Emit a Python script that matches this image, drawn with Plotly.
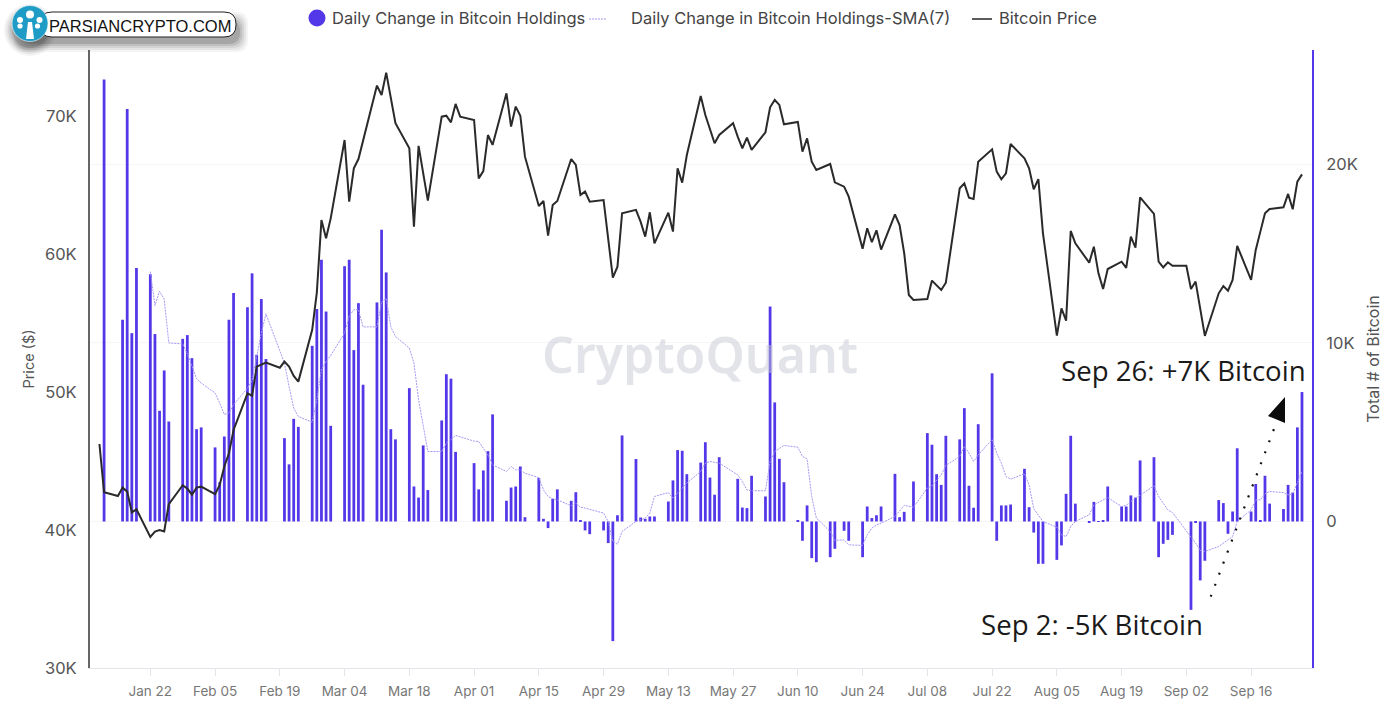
import plotly.graph_objects as go

bar_dates = """01-12 01-16 01-17 01-18 01-19 01-22 01-23 01-24 01-25 01-26 01-29 01-30 01-31 02-01 02-02
02-05 02-06 02-07 02-08 02-09 02-12 02-13 02-14 02-15 02-16 02-20 02-21 02-22 02-23
02-26 02-27 02-28 02-29 03-01 03-04 03-05 03-06 03-07 03-08 03-11 03-12 03-13 03-14 03-15
03-18 03-19 03-20 03-21 03-22 03-25 03-26 03-27 03-28 04-01 04-02 04-03 04-04 04-05
04-08 04-09 04-10 04-11 04-12 04-15 04-16 04-17 04-18 04-19 04-22 04-23 04-24 04-25 04-26
04-29 04-30 05-01 05-02 05-03 05-06 05-07 05-08 05-09 05-10 05-13 05-14 05-15 05-16 05-17
05-20 05-21 05-22 05-23 05-24 05-28 05-29 05-30 05-31 06-03 06-04 06-05 06-06 06-07
06-10 06-11 06-12 06-13 06-14 06-17 06-18 06-20 06-21 06-24 06-25 06-26 06-27 06-28
07-01 07-02 07-03 07-05 07-08 07-09 07-10 07-11 07-12 07-15 07-16 07-17 07-18 07-19
07-22 07-23 07-24 07-25 07-26 07-29 07-30 07-31 08-01 08-02 08-05 08-06 08-07 08-08 08-09
08-12 08-13 08-14 08-15 08-16 08-19 08-20 08-21 08-22 08-23 08-26 08-27 08-28 08-29 08-30
09-03 09-04 09-05 09-06 09-09 09-10 09-11 09-12 09-13 09-16 09-17 09-18 09-19 09-20
09-23 09-24 09-25 09-26 09-27""".split()
bar_values = [24.76, 11.3, 23.1, 10.55, 14.2, 13.85, 10.5, 6.2, 8.46, 5.6, 10.23, 10.44, 9.15, 5.17, 5.27,
    4.15, 2.2, 4.76, 11.3, 12.8, 12.0, 13.9, 9.34, 12.46, 9.1, 4.67, 3.2, 5.75, 5.3,
    9.84, 11.9, 14.66, 11.76, 5.36, 14.3, 14.66, 9.6, 12.23, 7.66, 12.27, 16.34, 13.95, 5.17, 4.6,
    7.47, 1.96, 1.34, 4.26, 1.76, 5.66, 8.25, 8.0, 3.9, 3.27, 1.8, 2.86, 3.94, 6.0,
    1.16, 1.9, 1.96, 3.08, 0.24, 2.43, 0.15, -0.37, 1.27, 1.8, 1.16, 1.64, 0.06, -0.5, -0.71,
    -0.5, -1.21, -6.7, 0.35, 4.82, 3.5, 0.22, 0.15, 0.28, 0.28, 1.12, 2.3, 4.0, 3.96, 2.65,
    3.3, 4.44, 2.46, 1.5, 3.6, 2.39, 0.78, 0.75, 2.56, 1.4, 12.04, 6.67, 3.51, 2.2,
    0.06, -1.08, 0.9, -2.05, -2.28, -2.0, -1.53, -0.52, -1.08, -2.0, 0.84, 0.19, 0.35, 0.84,
    2.67, 0.24, 0.54, 2.24, 4.95, 4.3, 2.65, 2.05, 4.8, 4.6, 6.35, 2.0, 0.77, 5.45,
    8.3, -1.08, 0.9, 0.9, 0.95, 2.95, 0.8, -0.62, -2.37, -2.37, -2.15, -1.34, 1.55, 4.8, 1.0,
    -0.06, 1.1, -0.02, 0.04, 1.96, 0.84, 0.84, 1.46, 1.34, 3.42, 3.6, -2.0, -1.25, -1.03, -0.75,
    -4.95, -0.06, -3.3, -2.2, 1.2, 1.03, -0.69, 0.56, 4.1, 0.56, 2.1, 0.07, 2.56, 1.0,
    0.7, 2.05, 1.62, 5.27, 7.25]

sma_dates = bar_dates[5:]
sma_values = [14.0, 12.1, 12.9, 12.45, 10.0, 9.95, 9.4, 8.7, 8.0, 7.75,
    7.2, 6.63, 6.0, 6.07, 6.54, 7.47, 7.9, 9.24, 10.55, 11.63, 8.87, 7.56, 6.35, 5.88,
    5.56, 6.8, 8.5, 8.96, 9.3, 10.55, 11.5, 11.86, 11.86, 10.9, 10.9, 12.3, 12.5, 10.9, 10.36,
    9.71, 8.87, 6.82, 5.32, 3.92, 3.92, 4.39, 4.58, 4.82, 4.5, 4.48, 4.1, 3.73, 3.17,
    2.8, 3.08, 2.89, 2.89, 2.7, 2.46, 1.77, 1.4, 1.27, 1.21, 0.88, 1.03, 0.8, 0.75, 0.69,
    0.47, 0.0, -1.12, -1.27, -0.56, 0.0, 0.09, 0.19, 0.47, 1.4, 1.62, 1.31, 1.59, 1.87, 2.15,
    2.8, 3.27, 3.36, 3.3, 3.27, 2.61, 2.24, 1.77, 1.72, 1.72, 3.36, 3.92, 4.1, 4.26,
    4.16, 3.64, 3.51, 1.4, 0.19, -0.56, -1.06, -1.03, -1.31, -1.34, -0.75, -0.37, -0.19, -0.09,
    0.28, 0.62, 0.9, 0.8, 1.87, 2.0, 2.33, 2.61, 3.14, 3.64, 4.2, 3.83, 3.36, 3.73,
    4.58, 3.83, 3.27, 2.52, 2.37, 2.67, 2.05, 0.72, 0.35, 0.0, -0.32, -0.75, -0.84, -0.28, 0.0,
    0.37, 0.93, 1.08, 1.21, 1.34, 0.84, 0.9, 1.12, 1.3, 1.49, 2.0, 1.4, 1.03, 0.65, 0.5,
    -0.84, -1.21, -1.62, -1.68, -1.4, -1.2, -1.03, -0.84, 0.0, 0.65, 1.21, 1.21, 1.55, 1.68,
    1.62, 1.49, 1.55, 2.15, 2.8]

price_dates = """01-11 01-12 01-15 01-16 01-17 01-18 01-19 01-22 01-23 01-24 01-25 01-26 01-29 01-30 01-31 02-01 02-02
02-05 02-06 02-07 02-08 02-09 02-12 02-13 02-14 02-15 02-16 02-19 02-20 02-21 02-22 02-23
02-26 02-27 02-28 02-29 03-01 03-04 03-05 03-06 03-07 03-11 03-12 03-13 03-15 03-18 03-19 03-20 03-22
03-25 03-26 03-27 03-28 03-29 04-01 04-02 04-03 04-04 04-05 04-08 04-09 04-10 04-11 04-12
04-15 04-16 04-17 04-18 04-19 04-22 04-23 04-24 04-25 04-26 04-29 05-01 05-02 05-03
05-06 05-07 05-08 05-09 05-10 05-13 05-14 05-15 05-16 05-17 05-20 05-21 05-23 05-24
05-27 05-28 05-29 05-30 05-31 06-03 06-04 06-05 06-06 06-07 06-10 06-11 06-12 06-13 06-14
06-17 06-18 06-20 06-21 06-24 06-25 06-26 06-27 06-28 07-01 07-02 07-03 07-04 07-05
07-08 07-09 07-11 07-12 07-15 07-16 07-17 07-18 07-19 07-22 07-23 07-24 07-25 07-26
07-29 07-30 07-31 08-01 08-02 08-05 08-06 08-07 08-08 08-09 08-12 08-13 08-14 08-15 08-16
08-19 08-20 08-21 08-22 08-23 08-26 08-27 08-28 08-29 08-30 09-02 09-03 09-04 09-06
09-09 09-10 09-11 09-12 09-13 09-16 09-17 09-18 09-19 09-20 09-23 09-24 09-25 09-26 09-27""".split()
price_values = [46.23, 42.73, 42.46, 43.07, 42.78, 41.28, 41.5, 39.5, 39.88, 40.0, 39.9, 41.88, 43.24, 43.0, 42.56, 43.07, 43.14,
    42.6, 43.26, 44.6, 45.56, 47.25, 49.9, 49.73, 51.84, 51.96, 52.13, 51.76, 52.2, 51.84, 51.16, 50.75,
    54.5, 57.2, 62.46, 61.14, 62.58, 68.26, 63.79, 66.2, 66.88, 72.2, 71.52, 73.14, 69.47, 67.66, 61.98, 67.83, 63.86,
    69.95, 70.02, 69.54, 70.87, 69.95, 69.71, 65.48, 66.01, 68.62, 67.9, 71.64, 69.23, 70.68, 70.02, 67.05,
    63.48, 63.84, 61.33, 63.55, 63.84, 66.88, 66.45, 64.28, 64.52, 63.79, 63.91, 58.29, 59.08, 62.95,
    63.2, 62.34, 61.26, 63.02, 60.77, 62.99, 61.62, 66.2, 65.17, 67.17, 71.45, 70.07, 68.02, 68.62,
    69.47, 68.5, 67.66, 68.43, 67.54, 68.82, 70.63, 71.16, 70.8, 69.4, 69.57, 67.41, 68.38, 66.69, 66.09,
    66.52, 65.19, 64.88, 64.15, 60.38, 61.86, 60.85, 61.72, 60.32, 62.87, 62.1, 60.05, 57.03, 56.67,
    56.74, 58.07, 57.39, 57.92, 64.76, 65.12, 64.08, 63.99, 66.69, 67.58, 65.97, 65.41, 65.85, 67.97,
    66.93, 66.21, 64.69, 65.43, 61.5, 54.08, 56.06, 55.17, 61.67, 60.77, 59.37, 60.53, 58.6, 57.46, 58.91,
    59.44, 59.0, 61.26, 60.46, 64.1, 62.9, 59.44, 59.03, 59.4, 59.15, 59.15, 57.46, 58.0, 54.06,
    57.15, 57.68, 57.34, 58.12, 60.58, 58.12, 60.29, 61.62, 62.95, 63.26, 63.38, 64.35, 63.24, 65.24, 65.77]

tick_dates = ["01-22", "02-05", "02-19", "03-04", "03-18", "04-01", "04-15", "04-29", "05-13",
              "05-27", "06-10", "06-24", "07-08", "07-22", "08-05", "08-19", "09-02", "09-16"]
price_ticks = [30, 40, 50, 60, 70]
price_labels = ["30K", "40K", "50K", "60K", "70K"]
btc_ticks = [0, 10, 20]
btc_labels = ["0", "10K", "20K"]


def iso(seq):
    return ["2024-" + d for d in seq]


W, H = 1397, 705
L, R, T, B = 90, 1312, 50, 668


def px(x):
    return (x - L) / (R - L)


def py(y):
    return (B - y) / (B - T)


BLUE = "#5238e8"
TICK = "Inter"

fig = go.Figure()
fig.add_bar(x=iso(bar_dates), y=bar_values, width=0.6 * 86400000, marker=dict(color=BLUE, line_width=0),
            name="Daily Change in Bitcoin Holdings", yaxis="y")
fig.add_scatter(x=iso(sma_dates), y=sma_values, mode="lines", line=dict(color="#a598f4", width=1, dash="2px,1px"),
                name="Daily Change in Bitcoin Holdings-SMA(7)", yaxis="y")
fig.add_scatter(x=iso(price_dates), y=price_values, mode="lines", line=dict(color="#2a2a2a", width=2),
                name="Bitcoin Price", yaxis="y2")

shapes = []


def rect(x0, y0, x1, y1, r, **kw):
    path = (f"M{px(x0+r)},{py(y0)} L{px(x1-r)},{py(y0)} Q{px(x1)},{py(y0)} {px(x1)},{py(y0+r)} "
            f"L{px(x1)},{py(y1-r)} Q{px(x1)},{py(y1)} {px(x1-r)},{py(y1)} L{px(x0+r)},{py(y1)} "
            f"Q{px(x0)},{py(y1)} {px(x0)},{py(y1-r)} L{px(x0)},{py(y0+r)} Q{px(x0)},{py(y0)} {px(x0+r)},{py(y0)} Z")
    shapes.append(dict(type="path", path=path, xref="paper", yref="paper", layer="above", **kw))


def circle(cx, cy, r, **kw):
    shapes.append(dict(type="circle", x0=px(cx - r), x1=px(cx + r), y0=py(cy + r), y1=py(cy - r),
                       xref="paper", yref="paper", layer="above", **kw))


# logo: soft shadow, pill, badge and tree
for grow, alpha in [(8, 0.05), (6, 0.07), (4, 0.09), (2, 0.12), (0, 0.16)]:
    rect(22 - grow, 20 - grow, 240 + grow, 44 + grow, 12, fillcolor=f"rgba(40,40,40,{alpha})", line_width=0)
    circle(30, 30, 18 + grow, fillcolor=f"rgba(40,40,40,{alpha})", line_width=0)
rect(40, 12, 236, 37, 12, fillcolor="white", line=dict(color="#222", width=1))
circle(30, 23.5, 18, fillcolor="#1f9cc6", line=dict(color="white", width=0.6))
shapes.append(dict(type="path", xref="paper", yref="paper", layer="above", fillcolor="white", line_width=0,
                   path=f"M{px(26)},{py(39)} L{px(28)},{py(22)} L{px(32)},{py(22)} L{px(34)},{py(39)} Z"))
for cx, cy, r in [(30, 14.5, 4), (20, 20, 3), (39.5, 20, 3), (20, 26, 2.6), (37.5, 26, 2.6)]:
    circle(cx, cy, r, fillcolor="white", line_width=0)

# legend markers
circle(317, 18, 8.5, fillcolor=BLUE, line_width=0)
shapes.append(dict(type="line", x0=px(589), x1=px(606), y0=py(19), y1=py(19), xref="paper", yref="paper",
                   line=dict(color="#a598f4", width=1.2, dash="2px,1px")))
shapes.append(dict(type="line", x0=px(972), x1=px(992), y0=py(19), y1=py(19), xref="paper", yref="paper",
                   line=dict(color="#333", width=1.6)))

# dotted arrow
shapes.append(dict(type="line", x0=px(1210.7), y0=py(596.7), x1=px(1277), y1=py(421), xref="paper", yref="paper",
                   layer="above", line=dict(color="#111", width=2.2, dash="2px,9.8px")))
shapes.append(dict(type="path", xref="paper", yref="paper", layer="above", fillcolor="#0c0c0c", line_width=0,
                   path=f"M{px(1285)},{py(397)} L{px(1268)},{py(416)} L{px(1285)},{py(423)} Z"))


def note(x, y, text, size, color, family, anchor="left", weight=None):
    font = dict(size=size, color=color, family=family)
    if weight:
        font["weight"] = weight
    return dict(x=px(x), y=py(y), xref="paper", yref="paper", text=text, showarrow=False, xanchor=anchor,
                yanchor="middle", font=font)


annotations = [
    note(700, 354, "CryptoQuant", 50, "rgba(196,199,208,0.48)", "Noto Sans", anchor="center", weight=600),
    note(330, 18, "Daily Change in Bitcoin Holdings", 16.5, "#444", TICK),
    note(629, 18, "Daily Change in Bitcoin Holdings-SMA(7)", 16.5, "#444", TICK),
    note(997, 18, "Bitcoin Price", 16.5, "#444", TICK),
    note(47, 25.5, "PARSIANCRYPTO.COM", 16.5, "#111", "Liberation Sans"),
    note(1059, 370, "Sep 26: +7K Bitcoin", 27.6, "#1a1a1a", "Open Sans"),
    note(979, 624, "Sep 2: -5K Bitcoin", 27.6, "#1a1a1a", "Open Sans"),
]

fig.update_layout(
    width=W, height=H, showlegend=False, plot_bgcolor="white", paper_bgcolor="white",
    margin=dict(l=L, r=W - R, t=T, b=H - B, pad=0, autoexpand=False), shapes=shapes, annotations=annotations,
    font=dict(family=TICK, color="#666"),
    xaxis=dict(type="date", range=["2024-01-08 23:00", "2024-09-29 04:00"], tickvals=iso(tick_dates),
               tickformat="%b %d", ticks="outside", ticklen=7, tickcolor="#e4e4ea", tickwidth=1, showgrid=False,
               showline=True, linecolor="#e4e4ea", linewidth=1, tickfont=dict(size=13.5, color="#777"),
               zeroline=False, automargin=False, ticklabelstandoff=4),
    yaxis=dict(range=[-8.207, 26.41], side="right", tickvals=btc_ticks, ticktext=btc_labels,
               showgrid=True, gridcolor="#f6f6f6", gridwidth=1, zeroline=False, showline=True, linecolor=BLUE,
               linewidth=2, ticks="", ticklabelstandoff=9, tickfont=dict(size=16.5, color="#555"), automargin=False,
               title=dict(text="Total # of Bitcoin", font=dict(size=16, color="#555"), standoff=11)),
    yaxis2=dict(range=[30, 74.78], side="left", overlaying="y", tickvals=price_ticks, ticktext=price_labels,
                showgrid=False, zeroline=False, showline=True, linecolor="#666", linewidth=2, ticks="",
                ticklabelstandoff=8, tickfont=dict(size=16.5, color="#555"), automargin=False,
                title=dict(text="Price ($)", font=dict(size=14.5, color="#555"), standoff=6)),
)

fig.write_html("out.html", config={"displayModeBar": False},
               post_script="document.body.style.margin='0';document.body.style.overflow='hidden';")
